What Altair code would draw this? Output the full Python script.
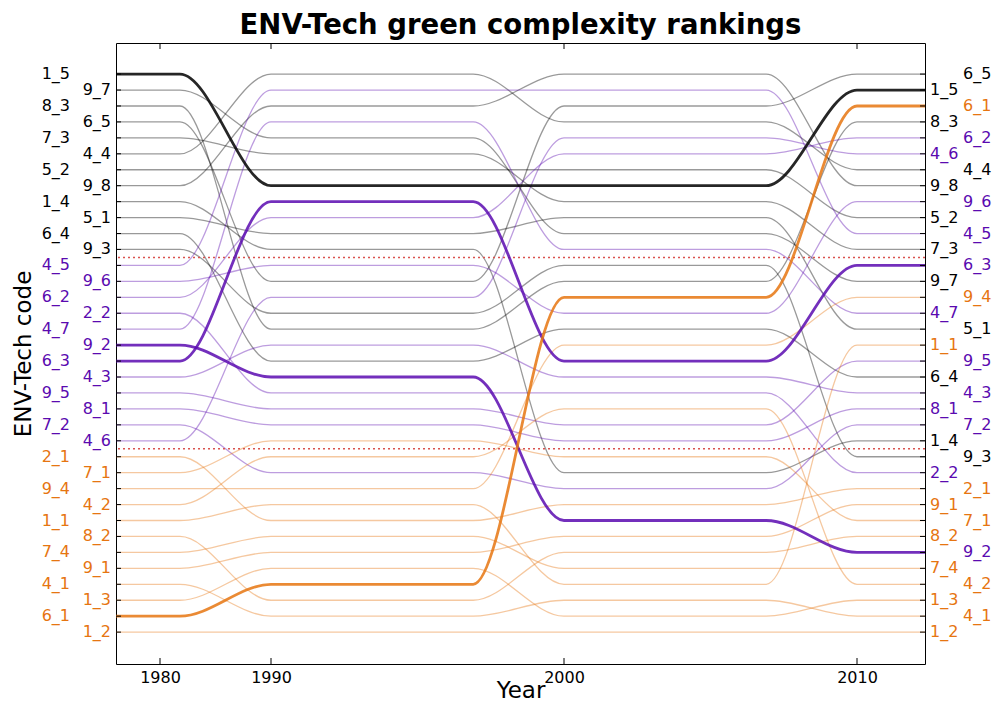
import altair as alt
import pandas as pd

# ---------------- data ----------------
names = ["1_5", "9_7", "8_3", "6_5", "7_3", "4_4", "5_2", "9_8", "1_4", "5_1", "6_4", "9_3",
         "4_5", "9_6", "6_2", "2_2", "4_7", "9_2", "6_3", "4_3", "9_5", "8_1", "7_2", "4_6",
         "2_1", "7_1", "9_4", "4_2", "1_1", "8_2", "7_4", "9_1", "4_1", "1_3", "6_1", "1_2"]
group = ["top"] * 12 + ["middle"] * 12 + ["bottom"] * 12
rank_1980 = list(range(1, 37))
rank_1990 = [8, 5, 17, 14, 6, 1, 7, 3, 12, 11, 19, 16,
             2, 13, 10, 21, 4, 20, 9, 18, 22, 23, 26, 15,
             29, 24, 27, 25, 28, 34, 30, 31, 35, 32, 33, 36]
rank_2000 = [8, 11, 14, 3, 9, 4, 7, 1, 26, 10, 17, 13,
             2, 16, 6, 21, 12, 29, 19, 20, 23, 24, 27, 5,
             28, 25, 18, 22, 33, 31, 32, 30, 34, 35, 15, 36]
rank_2010 = [2, 14, 4, 1, 12, 7, 10, 8, 24, 17, 20, 25,
             11, 9, 5, 26, 16, 31, 13, 21, 19, 22, 23, 6,
             27, 29, 15, 33, 18, 30, 32, 28, 35, 34, 3, 36]
highlighted = ["1_5", "6_3", "9_2", "6_1"]
years = [1980, 1990, 2000, 2010]
group_order = ["top", "middle", "bottom"]
group_colors = ["#000000", "#5a0ab0", "#e67511"]
boundaries = [12.5, 24.5]

# ---------------- layout ----------------
W, H = 809, 621
plateau_start = [1976.0, 1990, 2000, 2010]
plateau_end = [1981.8, 1996.9, 2006.9, 2012.3]
x_domain = [1976.0, 1980, 1990, 2000, 2010, 2012.3]
x_range = [0, 44, 155, 448, 741, 809]
FONT = "DejaVu Sans"

rank_cols = [rank_1980, rank_1990, rank_2000, rank_2010]
rows = []
for i, n in enumerate(names):
    for k in range(4):
        for t in (plateau_start[k], plateau_end[k]):
            rows.append({"name": n, "group": group[i], "t": t,
                         "rank": rank_cols[k][i], "hl": n in highlighted})
lines = pd.DataFrame(rows)

left = pd.DataFrame({"name": names, "group": group, "rank": rank_1980})
right = pd.DataFrame({"name": names, "group": group, "rank": rank_2010})
ranks_df = pd.DataFrame({"rank": rank_1980})
years_df = pd.DataFrame({"year": years})
sep_df = pd.DataFrame({"rank": boundaries})

xs = alt.Scale(domain=x_domain, range=x_range, zero=False, nice=False)
ys = alt.Scale(domain=[-0.95, 38.0], reverse=True, zero=False, nice=False)
cs = alt.Scale(domain=group_order, range=group_colors)

x_axis = alt.Axis(values=years, format="d", ticks=False, domain=False, grid=False,
                  labelFontSize=16, labelFont=FONT, labelColor="black", labelPadding=5,
                  title="Year", titleFontSize=23, titleFont=FONT, titleFontWeight="normal",
                  titleColor="black", titleBaseline="alphabetic", titleY=33)
y_axis = alt.Axis(labels=False, ticks=False, domain=False, grid=False,
                  title="ENV-Tech code", titleFontSize=23, titleFont=FONT,
                  titleFontWeight="normal", titleColor="black", titlePadding=81)

X = alt.X("t:Q", scale=xs, axis=x_axis)
Y = alt.Y("rank:Q", scale=ys, axis=y_axis)
C = alt.Color("group:N", scale=cs, legend=None)

base = alt.Chart(lines)
thin = base.transform_filter("!datum.hl").mark_line(
    interpolate="monotone", strokeWidth=1.3, opacity=0.4
).encode(x=X, y=Y, color=C, detail="name:N", order="t:Q")
thick = base.transform_filter("datum.hl").mark_line(
    interpolate="monotone", strokeWidth=2.8, opacity=0.85
).encode(x=X, y=Y, color=C, detail="name:N", order="t:Q")

sep = alt.Chart(sep_df).mark_rule(color="#d9534f", strokeDash=[2, 3], strokeWidth=1.5).encode(
    y=alt.Y("rank:Q", scale=ys, axis=y_axis)
)


def labels(df, xpos, odd, align):
    return alt.Chart(df).transform_filter(
        "datum.rank % 2 == 1" if odd else "datum.rank % 2 == 0"
    ).mark_text(align=align, baseline="middle", fontSize=16, font=FONT).encode(
        x=alt.value(xpos),
        y=alt.Y("rank:Q", scale=ys, axis=y_axis),
        text="name:N",
        color=C,
    )


lab_l1 = labels(left, -46, True, "right")
lab_l2 = labels(left, -5, False, "right")
lab_r1 = labels(right, 847, True, "left")
lab_r2 = labels(right, 814, False, "left")

tick_l = alt.Chart(ranks_df).mark_rule(color="black", strokeWidth=1).encode(
    y=alt.Y("rank:Q", scale=ys, axis=y_axis), x=alt.value(0), x2=alt.value(5))
tick_r = alt.Chart(ranks_df).mark_rule(color="black", strokeWidth=1).encode(
    y=alt.Y("rank:Q", scale=ys, axis=y_axis), x=alt.value(W - 5), x2=alt.value(W))
tick_b = alt.Chart(years_df).mark_rule(color="black", strokeWidth=1).encode(
    x=alt.X("year:Q", scale=xs, axis=x_axis), y=alt.value(H), y2=alt.value(H - 6))
tick_t = alt.Chart(years_df).mark_rule(color="black", strokeWidth=1).encode(
    x=alt.X("year:Q", scale=xs, axis=x_axis), y=alt.value(0), y2=alt.value(6))

chart = alt.layer(
    thin, sep, thick, tick_l, tick_r, tick_b, tick_t, lab_l1, lab_l2, lab_r1, lab_r2
).properties(
    width=W, height=H,
    title=alt.Title("ENV-Tech green complexity rankings", fontSize=27.5, font=FONT,
                    fontWeight="bold", anchor="middle", frame="group", offset=3, color="black"),
    padding={"left": 108, "top": 35, "right": 67, "bottom": 37},
    autosize="none",
    background="white",
).configure_view(stroke="black", strokeWidth=1)

chart.save("out.html", embed_options={"renderer": "svg", "actions": False})
